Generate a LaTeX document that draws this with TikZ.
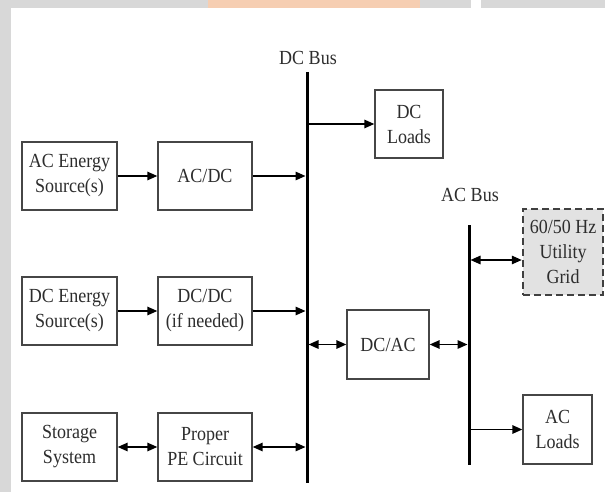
\documentclass[tikz,border=0pt]{standalone}
\usepackage{fontspec}
\setmainfont{Liberation Serif}[FakeStretch=0.9]
\usetikzlibrary{arrows.meta}
\definecolor{boxc}{RGB}{70,70,70}
\definecolor{txtc}{RGB}{45,45,45}
\definecolor{stripc}{RGB}{216,216,216}
\definecolor{peach}{RGB}{246,206,178}
\definecolor{gridfill}{RGB}{226,226,226}
\tikzset{
  blk/.style={draw=boxc, line width=1.4pt, inner sep=0pt, align=center, text=txtc,
    font=\fontsize{20}{25}\selectfont},
  lbl/.style={inner sep=0pt, text=txtc, font=\fontsize{20}{25}\selectfont},
  busline/.style={line width=3pt, line cap=butt, black},
  arr/.style={line width=1.5pt, black, -{Triangle[length=10pt,width=8.5pt]}},
  darr/.style={line width=1.5pt, black, {Triangle[length=10pt,width=8.5pt]}-{Triangle[length=10pt,width=8.5pt]}},
}
\begin{document}
\begin{tikzpicture}[x=1pt,y=-1pt]
\useasboundingbox (0,0) rectangle (605,492);
\fill[white] (0,0) rectangle (605,492);
\fill[stripc] (0,0) rectangle (605,8);
\fill[stripc] (0,0) rectangle (11,492);
\fill[peach] (208,0) rectangle (420,8);
\fill[white] (471,0) rectangle (481,8);

% bus lines
\coordinate (dctop) at (307,72);
\coordinate (dcbot) at (307,483);
\coordinate (actop) at (469,225);
\coordinate (acbot) at (469,465);
\draw[busline] (dctop) -- (dcbot);
\draw[busline] (actop) -- (acbot);
\node[lbl] (dcbuslbl) at (308,58) {DC Bus};
\node[lbl] (acbuslbl) at (470,195) {AC Bus};

% boxes
\node[blk, minimum width=95pt, minimum height=68pt] (acsrc) at (69.5,176) {AC Energy\\Source(s)};
\node[blk, minimum width=94pt, minimum height=68pt] (acdc) at (205,176) {AC/DC};
\node[blk, minimum width=95pt, minimum height=68pt] (dcsrc) at (69.5,311) {DC Energy\\Source(s)};
\node[blk, minimum width=94pt, minimum height=68pt] (dcdc) at (205,311) {DC/DC\\(if needed)};
\node[blk, minimum width=95pt, minimum height=68pt] (stor) at (69.5,447) {Storage\\System};
\node[blk, minimum width=94pt, minimum height=68pt] (pe) at (205,447) {Proper\\PE Circuit};
\node[blk, minimum width=68pt, minimum height=68pt] (dcload) at (409,124) {DC\\Loads};
\node[blk, minimum width=82pt, minimum height=69pt] (dcac) at (388,344.5) {DC/AC};
\node[blk, draw=black!75, fill=gridfill, dashed, dash pattern=on 7pt off 4pt, line width=2.5pt,
      minimum width=80pt, minimum height=86pt] (grid) at (563,252) {60/50 Hz\\Utility\\Grid};
\node[blk, minimum width=69pt, minimum height=69pt] (acload) at (557.5,429.5) {AC\\Loads};

% connectors
\draw[arr] (acsrc) -- (acdc);
\draw[arr, shorten >=1.5pt] (acdc.east) -- (acdc.east -| dctop);
\draw[arr] (dcsrc) -- (dcdc);
\draw[arr, shorten >=1.5pt] (dcdc.east) -- (dcdc.east -| dctop);
\draw[darr] (stor) -- (pe);
\draw[darr, shorten >=1.5pt] (pe.east) -- (pe.east -| dctop);
\draw[arr] (dcload.west -| dctop) -- (dcload.west);
\draw[darr, shorten <=1.5pt] (dcac.west -| dctop) -- (dcac.west);
\draw[darr, shorten >=1.5pt] (dcac.east) -- (dcac.east -| actop);
\draw[darr, shorten <=1.5pt] ([yshift=-8pt]grid.west -| actop) -- ([yshift=-8pt]grid.west);
\draw[arr] (acload.west -| actop) -- (acload.west);
\end{tikzpicture}
\end{document}
